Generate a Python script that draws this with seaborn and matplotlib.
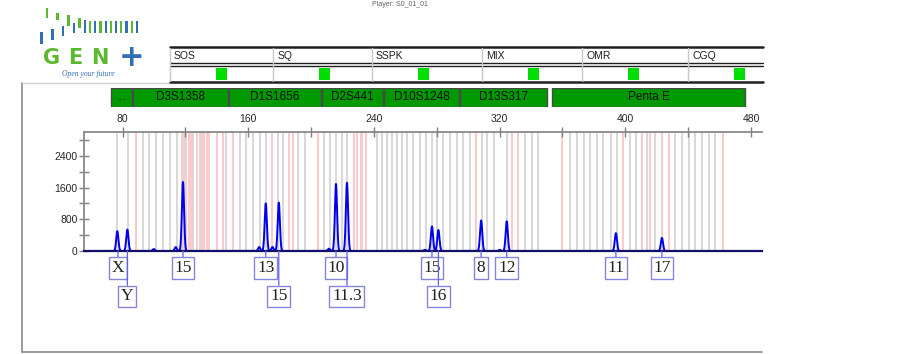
import numpy as np
import pandas as pd
import matplotlib
matplotlib.use("Agg")
import matplotlib.pyplot as plt
import seaborn as sns
from matplotlib.patches import Rectangle

# trace peaks (size in bp, height in RFU)
peak_bp = [76.6, 83.0, 99.8, 113.8, 118.4, 166.9, 171.1, 175.4, 179.4, 211.3,
           215.8, 222.8, 272.4, 276.9, 281.0, 308.2, 320.0, 324.5, 394.0, 423.3]
peak_rfu = [500, 540, 50, 100, 1740, 100, 1200, 100, 1220, 60,
            1690, 1720, 30, 620, 530, 770, 30, 750, 450, 330]

# called alleles
allele_labels = ["X", "Y", "15", "13", "15", "10", "11.3", "15", "16", "8", "12", "11", "17"]
allele_bp = [77.0, 83.0, 118.4, 171.1, 179.4, 215.8, 222.8, 276.9, 281.0, 308.2, 324.5, 394.0, 423.3]
allele_row = [1, 2, 1, 1, 2, 1, 2, 1, 2, 1, 1, 1, 1]

# bins
gray_bins = [76.5, 83.5, 93.0, 97.0, 101.5, 105.9, 110.1, 114.4, 119.0, 124.8, 129.2,
             146.0, 154.7, 158.8, 163.2, 167.4, 171.2, 179.1, 182.3, 191.8, 196.1,
             208.2, 212.0, 215.8, 219.4, 222.6, 232.1, 241.7, 244.9, 248.1, 251.3,
             254.4, 257.6, 260.8, 265.0, 269.3, 273.1, 276.7, 280.4, 284.1, 288.4,
             292.7, 296.9, 301.2, 308.6, 312.2, 316.5, 324.5, 336.2, 340.5, 344.7,
             364.9, 369.2, 373.4, 377.6, 381.9, 386.1, 390.8, 394.6, 403.1, 406.9,
             413.7, 419.1, 431.8, 436.1, 440.3, 444.6, 448.8, 453.1, 457.3]
pink_bins = [88.5, 117.8, 120.6, 122.0, 123.4, 127.1, 130.6, 132.0, 133.5, 135.0,
             139.8, 144.1, 150.4, 174.8, 186.1, 188.6, 204.5, 227.3, 229.4, 231.5,
             234.9, 305.0, 328.1, 331.9, 360.0, 398.4, 410.6, 415.9, 423.4, 427.6, 462.2]

# loci
loci = ["...", "D3S1358", "D1S1656", "D2S441", "D10S1248", "D13S317", "Penta E"]
locus_start = [72.4, 86.8, 147.6, 206.6, 246.5, 294.8, 353.6]
locus_end = [85.9, 146.9, 206.0, 245.9, 294.1, 350.0, 476.0]

# quality flags
flags = ["SOS", "SQ", "SSPK", "MIX", "OMR", "CGQ"]
flag_col_px = [170, 273.3, 371.7, 481.7, 582.3, 688.3]

W, H = 902, 354
sns.set_style("white")
plt.rcParams["font.family"] = ["Liberation Sans", "DejaVu Sans"]

fig = plt.figure(figsize=(W / 100, H / 100), dpi=100)

# overlay in pixel coordinates for frame, table and logo
deco = fig.add_axes([0, 0, 1, 1])
deco.set_xlim(0, W)
deco.set_ylim(H, 0)
deco.set_axis_off()
deco.patch.set_alpha(0)

# frame
deco.plot([22, 22], [82.5, 352], color="#8a8a8a", lw=1.2)
deco.plot([22, 762], [352, 352], color="#8a8a8a", lw=1.2)
deco.plot([22, 170], [82.5, 82.5], color="#d0d0d0", lw=1)

# flag table
tab_end = 763
deco.plot([170, tab_end], [47, 47], color="#202020", lw=1.8)
deco.plot([170, tab_end], [63.3, 63.3], color="#202020", lw=1)
deco.plot([170, tab_end], [66, 66], color="#202020", lw=1)
deco.plot([170, tab_end], [81.8, 81.8], color="#202020", lw=1.8)
for name, x0 in zip(flags, flag_col_px):
    deco.plot([x0, x0], [48, 81], color="#c8c8c8", lw=1)
    deco.text(x0 + 4, 56, name, fontsize=7.5, va="center", ha="left", color="#202020")
    deco.add_patch(Rectangle((x0 + 46, 67.7), 11, 12.3, color="#00dd00", lw=0))

# logo
logo_bars = [(41.5, 32, 44, "#2f6fb5"), (47, 8, 18, "#5cb82e"), (52.5, 29, 40, "#2f6fb5"),
             (57.5, 13, 20, "#5cb82e"), (63, 26, 36, "#2f6fb5"), (68.5, 15, 26, "#5cb82e"),
             (74, 23, 33, "#2f6fb5"), (79.5, 18, 28, "#5cb82e"), (85, 20, 33, "#2f6fb5")]
xb = 90.0
k = 0
while xb < 137:
    logo_bars.append((xb, 21, 33, "#5cb82e" if k % 2 == 0 else "#2f6fb5"))
    xb += 5.2
    k += 1
for bx, t, b, c in logo_bars:
    deco.add_patch(Rectangle((bx - 1.1, t), 2.2, b - t, color=c, lw=0))
for ch, cx in zip("GEN", [51.5, 75.5, 99.5]):
    deco.text(cx, 64.5, ch, fontsize=15, fontweight="heavy", color="#5cb82e",
              ha="center", va="baseline", family="DejaVu Sans")
deco.text(132, 57.5, "+", fontsize=22, fontweight="bold", color="#2f6fb5",
          ha="center", va="center", family="DejaVu Sans")
deco.text(88, 69.5, "Open your future", fontsize=5.5, style="italic", color="#2f6fb5",
          ha="center", va="top", family="Liberation Serif")
deco.text(400, 0.5, "Player: S0_01_01", fontsize=5, color="#606060", ha="center", va="top")

# main electropherogram
ax = fig.add_axes([84 / W, (H - 251) / H, 678 / W, 119 / H])
ax.set_facecolor("white")
for b in gray_bins:
    ax.axvline(b, color="#d9d9d9", lw=1.5, zorder=0)
for b in pink_bins:
    ax.axvline(b, color="#f8cccc", lw=1.5, zorder=0)

xs = np.arange(55.0, 487.0, 0.05)
ys = np.zeros_like(xs)
for p, h in zip(peak_bp, peak_rfu):
    ys += h * np.exp(-0.5 * ((xs - p) / 0.7) ** 2)
trace = pd.DataFrame({"bp": xs, "rfu": ys})
sns.lineplot(data=trace, x="bp", y="rfu", ax=ax, color="#0000f0", lw=1.4, zorder=1)

ax.set_xlim(55.4, 487)
ax.set_ylim(0, 3000)
ax.set_xlabel("")
ax.set_ylabel("")
ax.xaxis.tick_top()
ax.set_xticks([80, 160, 240, 320, 400, 480])
ax.set_xticks([120, 200, 280, 360, 440], minor=True)
ax.set_yticks([0, 800, 1600, 2400])
ax.set_yticks([400, 1200, 2000, 2800], minor=True)
ax.tick_params(axis="x", which="both", direction="inout", length=7, width=1,
               color="#808080", labelsize=7.5, pad=2, top=True, bottom=False)
ax.tick_params(axis="y", which="both", direction="inout", length=7, width=1,
               color="#808080", labelsize=7.5, pad=1, left=True)
for side in ["top", "left"]:
    ax.spines[side].set_color("#808080")
    ax.spines[side].set_linewidth(1.2)
ax.spines["right"].set_visible(False)
ax.spines["bottom"].set_color("#10106a")
ax.spines["bottom"].set_linewidth(1.6)

row_y = {1: H - 268, 2: H - 296.5}
for lab, bp, row in zip(allele_labels, allele_bp, allele_row):
    ax.annotate(lab, xy=(bp, 0), xycoords="data",
                xytext=(bp, row_y[row]), textcoords=("data", "figure pixels"),
                ha="center", va="center", fontsize=12.5, family="Liberation Serif",
                color="#202020", annotation_clip=False,
                bbox=dict(boxstyle="square,pad=0.15", fc="white", ec="#8585dd", lw=1),
                arrowprops=dict(arrowstyle="-", color="#6060f0", lw=0.9,
                                shrinkA=0, shrinkB=0))

# locus bar strip
lax = fig.add_axes([84 / W, (H - 107) / H, 678 / W, 19 / H], sharex=ax)
lax.barh(y=0, width=np.array(locus_end) - np.array(locus_start), left=locus_start,
         height=1, color="#009a00", edgecolor="#4a4a4a", lw=1)
for name, s, e in zip(loci, locus_start, locus_end):
    lax.text((s + e) / 2, 0, name, ha="center", va="center", fontsize=8.5, color="#101010")
lax.set_ylim(-0.5, 0.5)
lax.set_axis_off()

fig.savefig("out.png", dpi=100)
